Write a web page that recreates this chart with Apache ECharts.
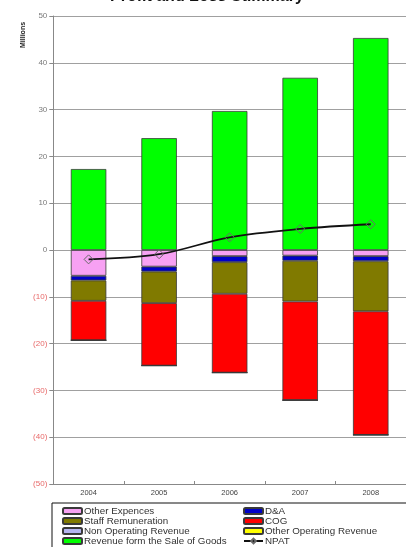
<!DOCTYPE html>
<html>
<head>
<meta charset="utf-8">
<script src="https://cdn.jsdelivr.net/npm/echarts@6/dist/echarts.min.js"></script>
<style>
  html, body { margin: 0; padding: 0; background: #fff; }
  #chart { width: 406px; height: 547px; }
</style>
</head>
<body>
<div id="chart"></div>
<script>
// Profit and loss summary, in millions
const years = ['2004', '2005', '2006', '2007', '2008'];
const otherExpences = [-5.5, -3.55, -1.3, -1.2, -1.3];
const depAmort = [-1.0, -1.05, -1.3, -1.1, -1.1];
const staffRemuneration = [-4.35, -6.75, -6.75, -8.7, -10.7];
const cog = [-8.45, -13.35, -16.85, -21.1, -26.4];
const nonOperatingRevenue = [0, 0, 0, 0, 0];
const otherOperatingRevenue = [0, 0, 0, 0, 0];
const salesRevenue = [17.3, 23.9, 29.7, 36.8, 45.3];
const npat = [-2.0, -0.9, 2.7, 4.5, 5.5];
const yTicks = { min: -50, max: 50, step: 10 };

const chart = echarts.init(document.getElementById('chart'), null, { renderer: 'canvas' });

const edge = { borderColor: '#3a3a3a', borderWidth: 0.8 };
function barSeries(name, data, color) {
  return {
    name: name,
    type: 'bar',
    stack: 'pl',
    data: data,
    barWidth: 35.5,
    itemStyle: Object.assign({ color: color }, edge),
    emphasis: { disabled: true }
  };
}

const legendText = { fontFamily: 'Liberation Sans, Arial', fontSize: 9.8, color: '#333', lineHeight: 8.7, padding: [0, 0, 0, -3] };

chart.setOption({
  animation: false,
  backgroundColor: '#fff',
  title: {
    text: 'Profit and Loss Summary',
    left: 110,
    top: -11,
    padding: 0,
    textStyle: { fontFamily: 'Liberation Sans, Arial', fontSize: 16, fontWeight: 'bold', color: '#111' }
  },
  grid: { left: 53.3, top: 16, width: 362, height: 468, containLabel: false },
  xAxis: {
    type: 'category',
    data: years,
    axisLine: { onZero: false, lineStyle: { color: '#888', width: 1 } },
    axisTick: { show: true, inside: true, length: 3, lineStyle: { color: '#888' } },
    axisLabel: { fontFamily: 'Liberation Sans, Arial', fontSize: 7.5, color: '#444', margin: 5 },
    splitLine: { show: false }
  },
  yAxis: {
    type: 'value',
    min: yTicks.min,
    max: yTicks.max,
    interval: yTicks.step,
    axisLine: { show: true, lineStyle: { color: '#888', width: 1 } },
    axisTick: { show: true, length: 4, lineStyle: { color: '#888' } },
    splitLine: { lineStyle: { color: '#a0a0a0', width: 1 } },
    axisLabel: {
      fontFamily: 'Liberation Sans, Arial',
      fontSize: 8,
      margin: 6,
      formatter: v => (v < 0 ? '(' + (-v) + ')' : String(v)),
      color: v => (Number(v) < 0 ? '#e86a6a' : '#7a7a7a')
    }
  },
  legend: [
    {
      orient: 'vertical',
      left: 62,
      top: 506,
      padding: 0,
      itemGap: 0,
      itemWidth: 19,
      itemHeight: 6,
      textStyle: legendText,
      data: ['Other Expences', 'Staff Remuneration', 'Non Operating Revenue', 'Revenue form the Sale of Goods'],
      selectedMode: false
    },
    {
      orient: 'vertical',
      left: 243,
      top: 506,
      padding: 0,
      itemGap: 0,
      itemWidth: 19,
      itemHeight: 6,
      textStyle: legendText,
      data: ['D&A', 'COG', 'Other Operating Revenue', 'NPAT'],
      selectedMode: false
    }
  ],
  graphic: [
    {
      type: 'text',
      rotation: Math.PI / 2,
      originX: 0,
      originY: 0,
      style: { text: 'Millions', font: 'bold 7px "Liberation Sans", Arial', fill: '#222' },
      x: 20, y: 48
    },
    {
      type: 'rect',
      shape: { x: 52, y: 503, width: 400, height: 60 },
      style: { fill: 'none', stroke: '#111', lineWidth: 1 },
      silent: true,
      z: 10
    }
  ],
  series: [
    barSeries('Other Expences', otherExpences, '#f7a1f3'),
    barSeries('D&A', depAmort, '#0000c8'),
    barSeries('Staff Remuneration', staffRemuneration, '#807a00'),
    barSeries('COG', cog, '#ff0000'),
    barSeries('Non Operating Revenue', nonOperatingRevenue, '#b4b4f0'),
    barSeries('Other Operating Revenue', otherOperatingRevenue, '#ffff00'),
    barSeries('Revenue form the Sale of Goods', salesRevenue, '#00ff00'),
    {
      name: 'NPAT',
      type: 'line',
      data: npat,
      smooth: 0.35,
      symbol: 'diamond',
      symbolSize: 9,
      showAllSymbol: true,
      lineStyle: { color: '#111', width: 1.8 },
      itemStyle: { color: 'rgba(0,0,0,0)', borderColor: '#6a6a6a', borderWidth: 1 },
      emphasis: { disabled: true },
      z: 5
    }
  ]
});
</script>
</body>
</html>
